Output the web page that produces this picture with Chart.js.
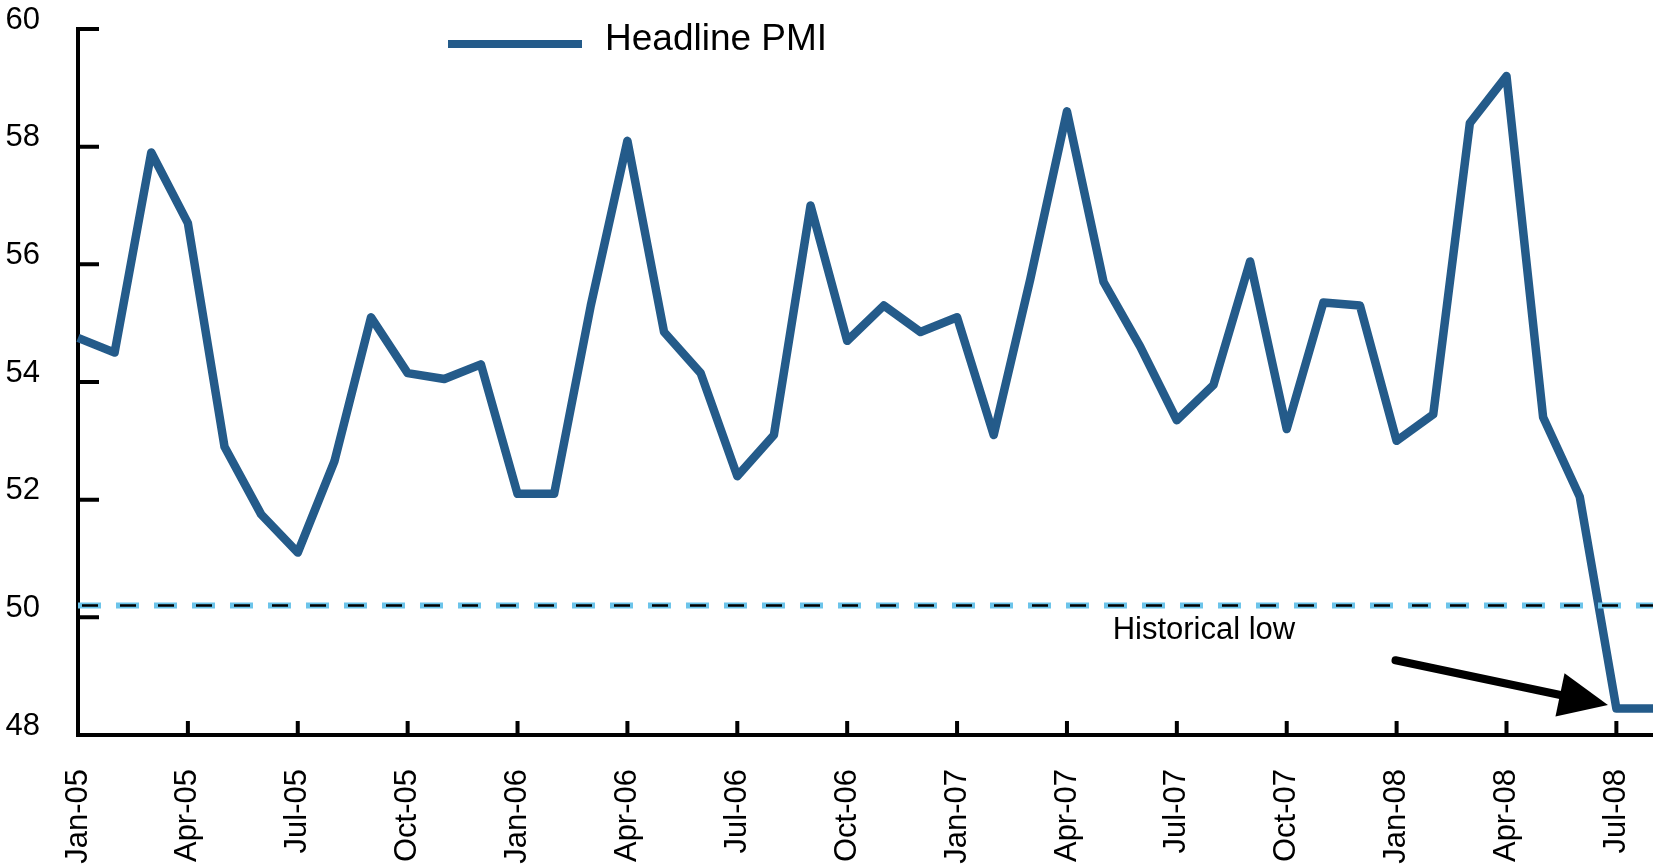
<!DOCTYPE html>
<html>
<head>
<meta charset="utf-8">
<script src="https://cdn.jsdelivr.net/npm/chart.js@4.4.1/dist/chart.umd.min.js"></script>
<style>
  html, body { margin: 0; padding: 0; background: #fff; }
  .chart-wrap { width: 1653px; height: 866px; position: relative; }
</style>
</head>
<body>
<div class="chart-wrap"><canvas id="pmiChart"></canvas></div>
<script>
// monthly categories, Jan-05 .. Aug-08
const months = [
  'Jan-05', 'Feb-05', 'Mar-05', 'Apr-05', 'May-05', 'Jun-05', 'Jul-05', 'Aug-05', 'Sep-05', 'Oct-05', 'Nov-05', 'Dec-05',
  'Jan-06', 'Feb-06', 'Mar-06', 'Apr-06', 'May-06', 'Jun-06', 'Jul-06', 'Aug-06', 'Sep-06', 'Oct-06', 'Nov-06', 'Dec-06',
  'Jan-07', 'Feb-07', 'Mar-07', 'Apr-07', 'May-07', 'Jun-07', 'Jul-07', 'Aug-07', 'Sep-07', 'Oct-07', 'Nov-07', 'Dec-07',
  'Jan-08', 'Feb-08', 'Mar-08', 'Apr-08', 'May-08', 'Jun-08', 'Jul-08', 'Aug-08'
];

const headlinePmi = [
  54.75, 54.5, 57.9, 56.7, 52.9, 51.75, 51.1, 52.65, 55.1, 54.15, 54.05, 54.3,
  52.1, 52.1, 55.3, 58.1, 54.85, 54.15, 52.4, 53.1, 57.0, 54.7, 55.3, 54.85,
  55.1, 53.1, 55.75, 58.6, 55.7, 54.6, 53.35, 53.95, 56.05, 53.2, 55.35, 55.3,
  53.0, 53.45, 58.4, 59.2, 53.4, 52.05, 48.45, 48.45
];

const yTicks = [48, 50, 52, 54, 56, 58, 60];

// reference line + annotation, in data units (category index, value)
const historicalLow = 50.2;
const noteText = 'Historical low';
const notePos = [30.74, 49.78];
const arrowFrom = [35.97, 49.27];
const arrowTo = [41.77, 48.51];

const lineColor = '#245b8a';
const font = 'Liberation Sans, Arial, sans-serif';

// ticks point inward in the original, so draw them ourselves
const innerTicks = {
  id: 'innerTicks',
  beforeDatasetsDraw(chart) {
    const { ctx, scales: { x, y } } = chart;
    ctx.save();
    ctx.strokeStyle = '#000';
    ctx.lineWidth = 4;
    ctx.beginPath();
    yTicks.forEach(v => {
      const py = y.getPixelForValue(v);
      ctx.moveTo(x.left, py);
      ctx.lineTo(x.left + 21, py);
    });
    months.forEach((m, i) => {
      if (i % 3 !== 0) return;
      const px = x.getPixelForValue(i);
      ctx.moveTo(px, y.bottom);
      ctx.lineTo(px, y.bottom - 14);
    });
    ctx.stroke();
    ctx.restore();
  }
};

const overlays = {
  id: 'overlays',
  afterDatasetsDraw(chart) {
    const { ctx, chartArea, scales: { x, y } } = chart;
    ctx.save();

    // dashed threshold: light blue under, black on top
    const ly = y.getPixelForValue(historicalLow);
    ctx.beginPath();
    ctx.moveTo(chartArea.left, ly);
    ctx.lineTo(chartArea.right, ly);
    ctx.strokeStyle = '#6cc4ea';
    ctx.lineWidth = 6;
    ctx.setLineDash([23, 15]);
    ctx.stroke();
    ctx.strokeStyle = '#000';
    ctx.lineWidth = 2.5;
    ctx.setLineDash([16, 22]);
    ctx.lineDashOffset = -4;
    ctx.stroke();
    ctx.setLineDash([]);

    // note text
    ctx.fillStyle = '#000';
    ctx.font = '31px ' + font;
    ctx.textAlign = 'center';
    ctx.textBaseline = 'middle';
    ctx.fillText(noteText, x.getPixelForValue(notePos[0]), y.getPixelForValue(notePos[1]));

    // arrow
    const x0 = x.getPixelForValue(arrowFrom[0]), y0 = y.getPixelForValue(arrowFrom[1]);
    const x1 = x.getPixelForValue(arrowTo[0]), y1 = y.getPixelForValue(arrowTo[1]);
    const ang = Math.atan2(y1 - y0, x1 - x0);
    const headLen = 49, headHalf = 22;
    const bx = x1 - headLen * Math.cos(ang), by = y1 - headLen * Math.sin(ang);
    ctx.beginPath();
    ctx.moveTo(x0, y0);
    ctx.lineTo(bx + 4 * Math.cos(ang), by + 4 * Math.sin(ang));
    ctx.strokeStyle = '#000';
    ctx.lineWidth = 8;
    ctx.lineCap = 'round';
    ctx.stroke();
    ctx.beginPath();
    ctx.moveTo(x1, y1);
    ctx.lineTo(bx + headHalf * Math.sin(ang), by - headHalf * Math.cos(ang));
    ctx.lineTo(bx - headHalf * Math.sin(ang), by + headHalf * Math.cos(ang));
    ctx.closePath();
    ctx.fill();

    // legend
    const lx = chartArea.left + 370, lyy = chartArea.top + 15;
    ctx.beginPath();
    ctx.moveTo(lx, lyy);
    ctx.lineTo(lx + 134, lyy);
    ctx.strokeStyle = lineColor;
    ctx.lineWidth = 8;
    ctx.lineCap = 'butt';
    ctx.stroke();
    ctx.font = '37px ' + font;
    ctx.textAlign = 'left';
    ctx.fillText(chart.data.datasets[0].label, lx + 157, lyy - 4);

    ctx.restore();
  }
};

new Chart(document.getElementById('pmiChart'), {
  type: 'line',
  data: {
    labels: months,
    datasets: [{
      label: 'Headline PMI',
      data: headlinePmi,
      borderColor: lineColor,
      borderWidth: 8.5,
      pointRadius: 0,
      tension: 0,
      borderJoinStyle: 'round'
    }]
  },
  options: {
    responsive: true,
    maintainAspectRatio: false,
    animation: false,
    layout: { padding: { top: 29, left: 0, right: 0, bottom: 0 } },
    plugins: { legend: { display: false }, tooltip: { enabled: false } },
    scales: {
      x: {
        offset: false,
        grid: { display: false, drawTicks: false },
        border: { display: true, color: '#000', width: 4 },
        ticks: {
          autoSkip: false,
          minRotation: 90,
          maxRotation: 90,
          padding: 34,
          color: '#000',
          font: { family: font, size: 31 },
          callback: (v, i) => (i % 3 === 0 ? months[i] : null)
        },
        afterFit(scale) {
          // plot runs to the right edge, first label sits under the y axis
          scale.paddingLeft = 0;
          scale.paddingRight = 0;
          scale.height = 131;
        }
      },
      y: {
        min: 48,
        max: 60,
        grid: { display: false, drawTicks: false },
        border: { display: true, color: '#000', width: 4 },
        ticks: {
          stepSize: 2,
          padding: 38,
          labelOffset: -9,
          color: '#000',
          font: { family: font, size: 31 }
        },
        afterFit(scale) {
          scale.paddingTop = 0;
          scale.paddingBottom = 0;
          scale.width = 78;
        }
      }
    }
  },
  plugins: [innerTicks, overlays]
});
</script>
</body>
</html>
